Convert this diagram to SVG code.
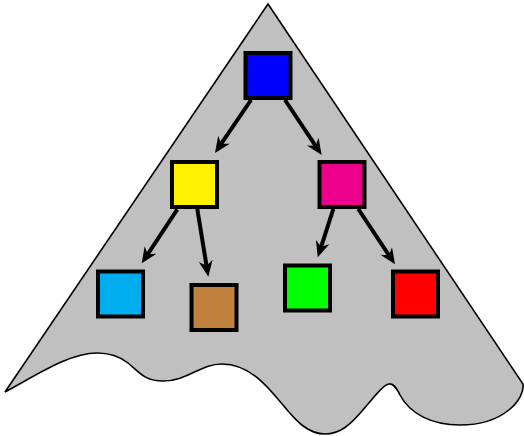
<svg xmlns="http://www.w3.org/2000/svg" width="524" height="436" viewBox="0 0 524 436">
<style>
.node{stroke:#000;stroke-width:4}
.edge{stroke:#000;stroke-width:4;fill:none;marker-end:url(#ah)}
</style>
<defs>
<marker id="ah" viewBox="-17 -8 18 16" markerWidth="18" markerHeight="16" refX="-10" refY="0" orient="auto" markerUnits="userSpaceOnUse">
<path d="M0,0 L-16,-7 L-11,0 L-16,7 Z" fill="#000"/>
</marker>
</defs>
<g id="background">
<path d="M268 4 L523 384 C525 398 505 425 460 425 C432 425 410 414 400 395 C396 387 393 383 389 384 C383 385 375 396 362 411 C350 425 340 434 325 434 C308 434 296 421 283 405 C268 387 250 364 222 364 C200 364 188 381 163 381 C145 381 140 373 128 363 C118 355 108 353 97 353 C70 353 40 373 5 392 Z" fill="#c0c0c0" stroke="#000" stroke-width="1.6" stroke-linejoin="miter"/>
</g>
<g id="connectors">
<line class="edge" x1="251" y1="100" x2="220.6" y2="144.7"/>
<line class="edge" x1="285" y1="100" x2="316.1" y2="146.7"/>
<line class="edge" x1="177.3" y1="209.3" x2="147.2" y2="255"/>
<line class="edge" x1="197.3" y1="209" x2="206.7" y2="266.8"/>
<line class="edge" x1="333.3" y1="209" x2="320.8" y2="247.8"/>
<line class="edge" x1="358.3" y1="209" x2="389.5" y2="256"/>
</g>
<g id="n-blue"><rect class="node" x="245.5" y="53" width="45" height="45" fill="#0000ff"/></g>
<g id="n-yellow"><rect class="node" x="172" y="162" width="45" height="45" fill="#fff200"/></g>
<g id="n-magenta"><rect class="node" x="319.5" y="162" width="45" height="45" fill="#ec008c"/></g>
<g id="n-cyan"><rect class="node" x="98" y="271.5" width="45" height="45" fill="#00aeef"/></g>
<g id="n-brown"><rect class="node" x="191.5" y="285" width="45" height="45" fill="#c1813f"/></g>
<g id="n-green"><rect class="node" x="285" y="265.5" width="45" height="45" fill="#00ff00"/></g>
<g id="n-red"><rect class="node" x="393" y="271.5" width="45" height="45" fill="#ff0000"/></g>
</svg>
